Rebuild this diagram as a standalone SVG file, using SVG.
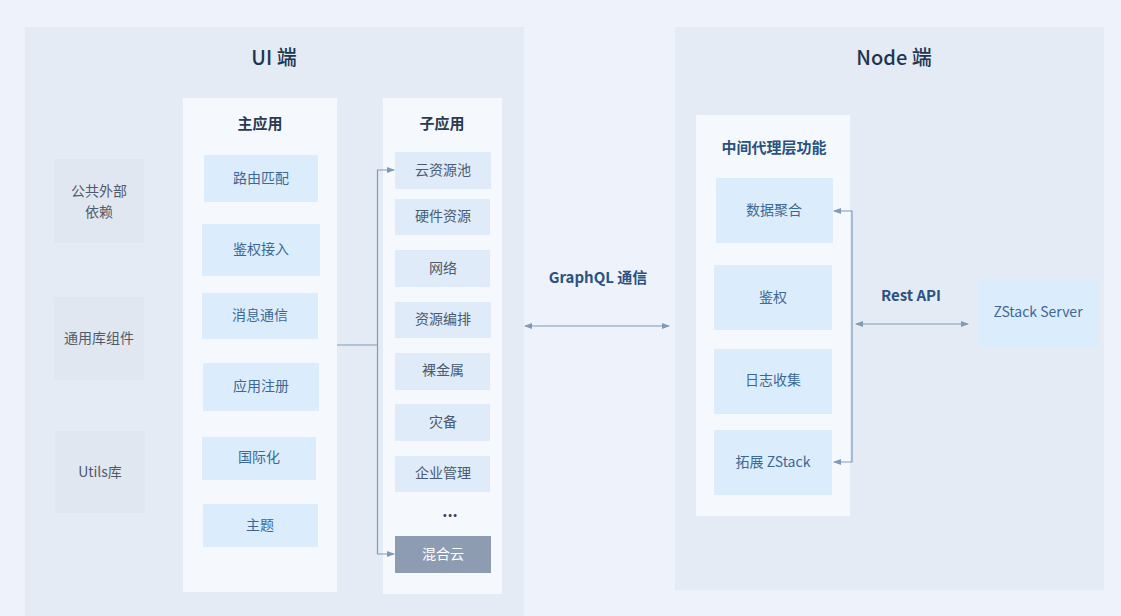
<svg xmlns="http://www.w3.org/2000/svg" width="1121" height="616" viewBox="0 0 1121 616">
<defs>
<style>
text{font-family:"Noto Sans CJK SC","Noto Sans",sans-serif;text-anchor:middle;dominant-baseline:central}
.panel{fill:#e4ebf5}
.col{fill:#f5f9fe}
.box{fill:#dbedfc}
.sbox{fill:#dfebf9}
.gbox{fill:#e1e7f0}
.t1{font-size:20px;font-weight:500;fill:#1e3552}
.t2{font-size:15px;font-weight:700;fill:#2b3b50}
.t3{font-size:15px;font-weight:700;fill:#2a5280}
.bt{font-size:14px;fill:#3d6895}
.st{font-size:14px;fill:#4a5a70}
.gt{font-size:14px;fill:#4f5b6b}
.lbl{font-size:15px;font-weight:700;fill:#2a5282}
.ln{fill:none;stroke:#7f9bb8;stroke-width:1.2}
</style>
<marker id="ah" viewBox="0 0 8 8" refX="7" refY="4" markerWidth="8" markerHeight="8" orient="auto-start-reverse" markerUnits="userSpaceOnUse">
<path d="M0,1 L8,4 L0,7 Z" fill="#7f9bb8"/>
</marker>
</defs>
<rect width="1121" height="616" fill="#eef3fb"/>
<g id="ui-panel">
<rect class="panel" x="25" y="27" width="499" height="589"/>
<text class="t1" x="274" y="56">UI 端</text>
</g>
<g id="node-panel">
<rect class="panel" x="675" y="27" width="429" height="563"/>
<text class="t1" x="894" y="56">Node 端</text>
</g>
<g id="ext-deps"><rect class="gbox" x="54" y="159" width="90" height="84"/><text class="gt" x="99" y="190">公共外部</text><text class="gt" x="99" y="211">依赖</text></g>
<g id="common-lib"><rect class="gbox" x="54" y="297" width="90" height="83"/><text class="gt" x="99" y="337">通用库组件</text></g>
<g id="utils"><rect class="gbox" x="55" y="431" width="90" height="82"/><text class="gt" x="100" y="471">Utils库</text></g>
<g id="main-app">
<rect class="col" x="183" y="98" width="154" height="494"/>
<text class="t2" x="260" y="122">主应用</text>
</g>
<g id="route"><rect class="box" x="204" y="155" width="114" height="47"/><text class="bt" x="261" y="177">路由匹配</text></g>
<g id="auth-in"><rect class="box" x="202" y="224" width="118" height="52"/><text class="bt" x="261" y="248">鉴权接入</text></g>
<g id="msg"><rect class="box" x="202" y="293" width="116" height="46"/><text class="bt" x="260" y="314">消息通信</text></g>
<g id="reg"><rect class="box" x="203" y="363" width="116" height="48"/><text class="bt" x="261" y="385">应用注册</text></g>
<g id="i18n"><rect class="box" x="202" y="437" width="114" height="43"/><text class="bt" x="259" y="456">国际化</text></g>
<g id="theme"><rect class="box" x="203" y="504" width="115" height="43"/><text class="bt" x="260" y="524">主题</text></g>
<g id="sub-app">
<rect class="col" x="383" y="98" width="119" height="496"/>
<text class="t2" x="442" y="122">子应用</text>
</g>
<g id="cloud"><rect class="sbox" x="395" y="152" width="96" height="37"/><text class="st" x="443" y="169">云资源池</text></g>
<g id="hw"><rect class="sbox" x="395" y="199" width="95" height="36"/><text class="st" x="443" y="215">硬件资源</text></g>
<g id="net"><rect class="sbox" x="395" y="250" width="95" height="37"/><text class="st" x="443" y="267">网络</text></g>
<g id="orch"><rect class="sbox" x="395" y="302" width="96" height="36"/><text class="st" x="443" y="318">资源编排</text></g>
<g id="bare"><rect class="sbox" x="395" y="353" width="95" height="37"/><text class="st" x="443" y="369">裸金属</text></g>
<g id="dr"><rect class="sbox" x="395" y="404" width="95" height="37"/><text class="st" x="443" y="421">灾备</text></g>
<g id="ent"><rect class="sbox" x="395" y="456" width="95" height="36"/><text class="st" x="443" y="472">企业管理</text></g>
<g id="more"><text x="450" y="510" style="font-size:16px;font-weight:700;fill:#3a4658">...</text></g>
<g id="hybrid"><rect x="395" y="536" width="96" height="37" fill="#8e9cb2"/><text x="443" y="553" style="font-size:14px;fill:#ffffff">混合云</text></g>
<g id="proxy">
<rect class="col" x="696" y="115" width="154" height="401"/>
<text class="t3" x="774" y="146">中间代理层功能</text>
</g>
<g id="agg"><rect class="box" x="716" y="178" width="117" height="65"/><text class="bt" x="774" y="209">数据聚合</text></g>
<g id="auth"><rect class="box" x="714" y="265" width="118" height="65"/><text class="bt" x="773" y="296">鉴权</text></g>
<g id="log"><rect class="box" x="714" y="349" width="118" height="65"/><text class="bt" x="773" y="379">日志收集</text></g>
<g id="ext"><rect class="box" x="714" y="430" width="118" height="65"/><text class="bt" x="773" y="461">拓展 ZStack</text></g>
<g id="zstack"><rect class="box" x="978" y="280" width="120" height="67"/><text class="bt" x="1038" y="311">ZStack Server</text></g>
<g id="connectors">
<path class="ln" d="M337,345 H377.5"/>
<path class="ln" d="M394,170 H377.5 V554 H394" marker-start="url(#ah)" marker-end="url(#ah)"/>
<path class="ln" d="M525,326 H669" marker-start="url(#ah)" marker-end="url(#ah)"/>
<path class="ln" d="M834,211 H852 V462 H834" marker-start="url(#ah)" marker-end="url(#ah)"/>
<path class="ln" d="M856,324 H968" marker-start="url(#ah)" marker-end="url(#ah)"/>
<text class="lbl" x="598" y="276">GraphQL 通信</text>
<text class="lbl" x="911" y="294">Rest API</text>
</g>
</svg>
